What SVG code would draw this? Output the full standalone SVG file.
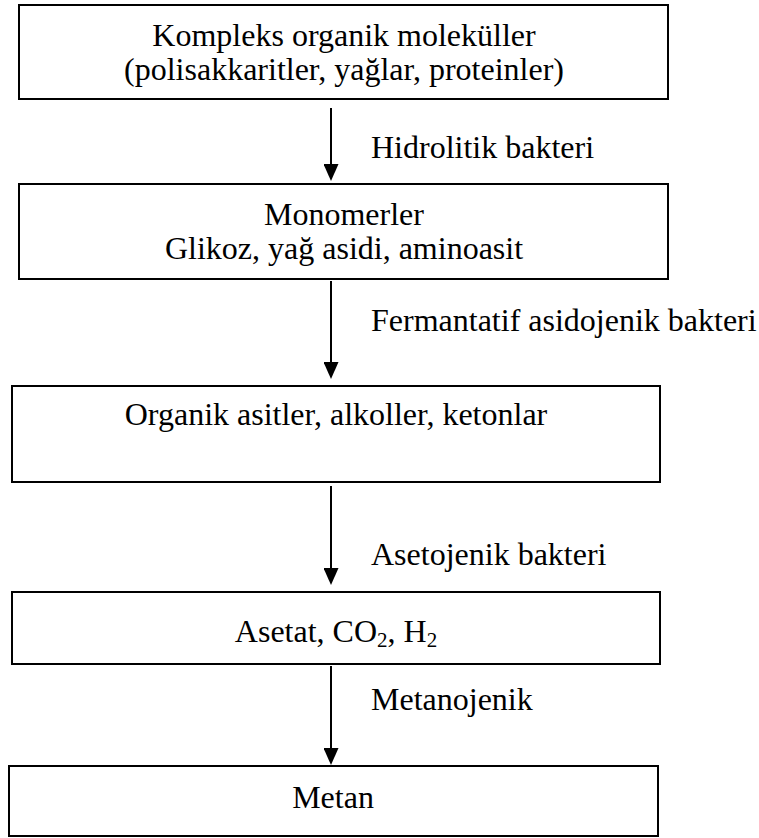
<svg xmlns="http://www.w3.org/2000/svg" width="759" height="838" viewBox="0 0 759 838">
  <defs>
    <!-- solid triangular head; tip sits 12 units past the line end -->
    <marker id="arrowhead" markerWidth="17" markerHeight="15" refX="5" refY="7.5" orient="auto" markerUnits="userSpaceOnUse" viewBox="0 0 17 15">
      <path d="M0,0 L17,7.5 L0,15 Z" fill="#000"/>
    </marker>
  </defs>
  <style>
    .box { fill: #fff; stroke: #000; stroke-width: 2; }
    .txt { font-family: "Liberation Serif", "Times New Roman", serif; font-size: 32px; fill: #000; }
    .mid { text-anchor: middle; }
    .edge { stroke: #000; stroke-width: 2; fill: none; marker-end: url(#arrowhead); }
    .sub { font-size: 21px; }
  </style>
  <rect width="759" height="838" fill="#fff"/>

  <g id="connectors">
    <line class="edge" x1="331" y1="108" x2="331" y2="169"/>
    <line class="edge" x1="331" y1="281" x2="331" y2="367"/>
    <line class="edge" x1="331" y1="486" x2="331" y2="573"/>
    <line class="edge" x1="331" y1="666" x2="331" y2="753"/>
  </g>

  <g id="edge-labels">
    <text class="txt" x="371" y="158">Hidrolitik bakteri</text>
    <text class="txt" x="371" y="331">Fermantatif asidojenik bakteri</text>
    <text class="txt" x="371" y="565">Asetojenik bakteri</text>
    <text class="txt" x="371" y="710">Metanojenik</text>
  </g>

  <g id="node-kompleks">
    <rect class="box" x="19" y="5" width="649" height="94"/>
    <text class="txt mid" x="344" y="46">Kompleks organik moleküller</text>
    <text class="txt mid" x="344" y="80">(polisakkaritler, yağlar, proteinler)</text>
  </g>

  <g id="node-monomerler">
    <rect class="box" x="19" y="184" width="649" height="95"/>
    <text class="txt mid" x="344" y="225">Monomerler</text>
    <text class="txt mid" x="344" y="259">Glikoz, yağ asidi, aminoasit</text>
  </g>

  <g id="node-organik">
    <rect class="box" x="12" y="386" width="648" height="96"/>
    <text class="txt mid" x="336" y="425">Organik asitler, alkoller, ketonlar</text>
  </g>

  <g id="node-asetat">
    <rect class="box" x="12" y="592" width="648" height="72"/>
    <text class="txt mid" x="336" y="642">Asetat, CO<tspan class="sub" dy="5">2</tspan><tspan dy="-5">, H</tspan><tspan class="sub" dy="5">2</tspan></text>
  </g>

  <g id="node-metan">
    <rect class="box" x="9" y="766" width="649" height="70"/>
    <text class="txt mid" x="333" y="808">Metan</text>
  </g>
</svg>
